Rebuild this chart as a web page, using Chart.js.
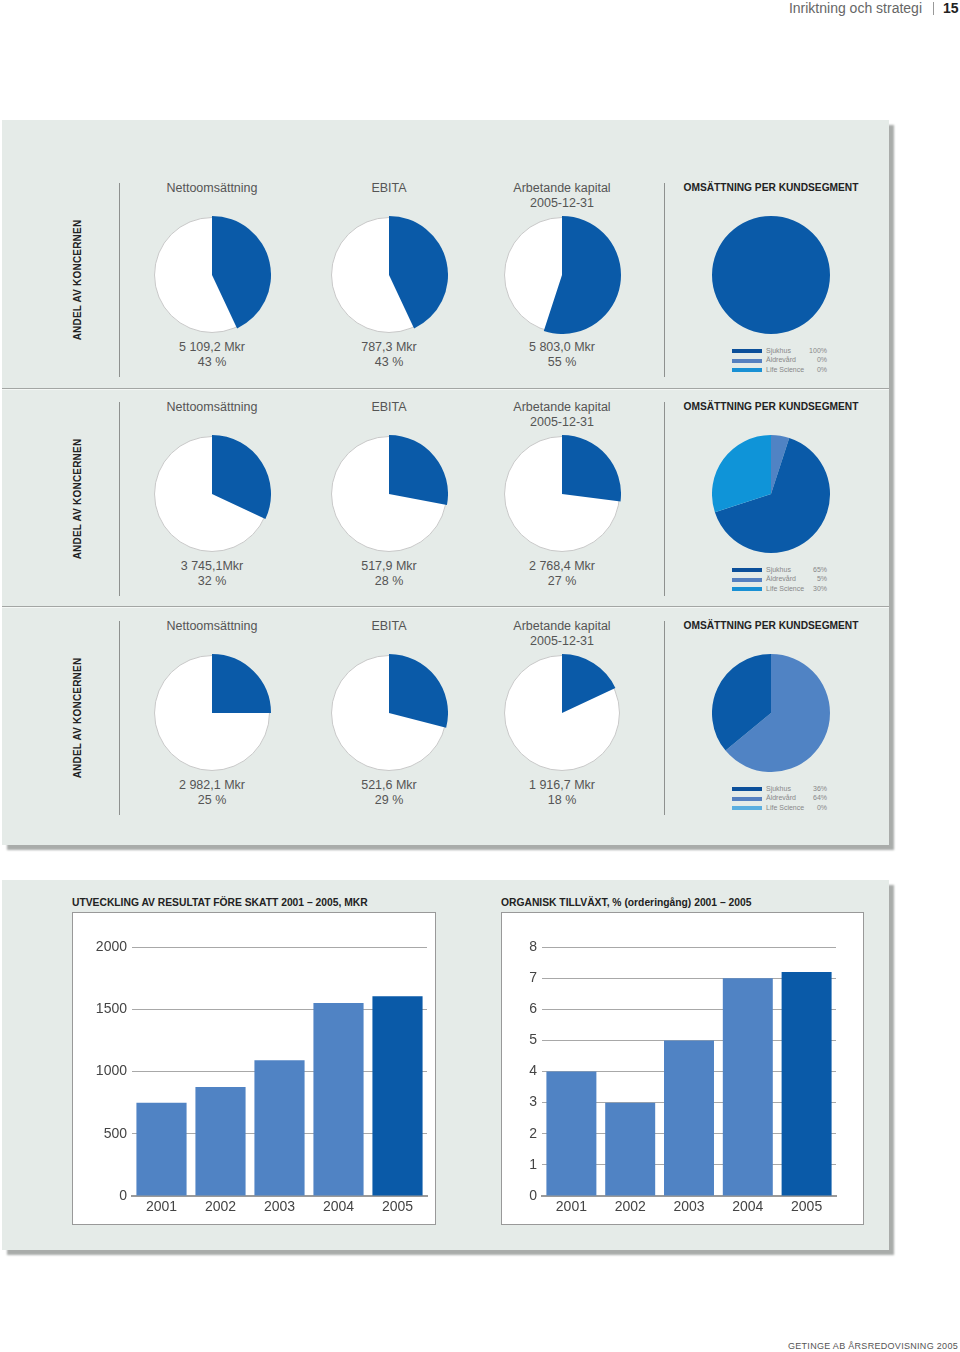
<!DOCTYPE html>
<html><head><meta charset="utf-8">
<script src="https://cdn.jsdelivr.net/npm/chart.js@4"></script>
<style>
html,body{margin:0;padding:0;background:#fff;}
body{width:960px;height:1352px;position:relative;overflow:hidden;font-family:"Liberation Sans",Arial,Helvetica,sans-serif;}
.abs{position:absolute;}
.panel{position:absolute;background:#e5ebe8;box-shadow:5px 5px 2px #a9acaa;}
.t{position:absolute;white-space:nowrap;transform:translate(-50%,-50%);color:#555;font-size:12.5px;}
.vl{position:absolute;white-space:nowrap;transform:translate(-50%,-50%) rotate(-90deg);font-weight:bold;font-size:10px;color:#222;letter-spacing:0.2px;}
.sep{position:absolute;width:1px;background:#8e918f;}
.hsep{position:absolute;left:2px;width:887px;height:1px;background:#a3a6a4;border-bottom:1px solid #f4f7f5;}
.segt{position:absolute;white-space:nowrap;transform:translate(-50%,-50%);font-weight:bold;font-size:10.2px;color:#222;}
.circ{position:absolute;box-sizing:border-box;border:1px solid #c9c9c9;border-radius:50%;background:#fff;}
.lg{position:absolute;font-size:7px;color:#888;white-space:nowrap;}
.sw{position:absolute;width:30px;height:4px;}
.box{position:absolute;background:#fff;border:1px solid #999;box-sizing:border-box;}
.bt{position:absolute;white-space:nowrap;font-weight:bold;font-size:10.3px;color:#222;transform:translateY(-50%);}
</style></head>
<body>
<div class="abs" style="right:38px;top:0;font-size:14px;color:#666;line-height:16px;">Inriktning och strategi</div>
<div class="abs" style="left:933px;top:2px;width:1px;height:13px;background:#999;"></div>
<div class="abs" style="left:943px;top:0;font-size:14px;font-weight:bold;color:#222;line-height:16px;">15</div>

<div class="panel" style="left:2px;top:120px;width:887px;height:725px;"></div>
<div class="panel" style="left:2px;top:880px;width:887px;height:370px;"></div>
<div class="hsep" style="top:388px;"></div>
<div class="hsep" style="top:606px;"></div>

<div id="root"></div>

<div class="box" style="left:72px;top:912px;width:364px;height:313px;"></div>
<div class="box" style="left:501px;top:912px;width:363px;height:313px;"></div>
<div class="bt" style="left:72px;top:902px;">UTVECKLING AV RESULTAT FÖRE SKATT 2001 – 2005, MKR</div>
<div class="bt" style="left:501px;top:902px;">ORGANISK TILLVÄXT, % (orderingång) 2001 – 2005</div>
<canvas id="bar1" class="abs" style="left:72px;top:913px;" width="364" height="311"></canvas>
<canvas id="bar2" class="abs" style="left:501px;top:913px;" width="362" height="311"></canvas>

<div class="abs" style="right:2px;top:1341px;font-size:9px;color:#555;letter-spacing:0.3px;">GETINGE AB ÅRSREDOVISNING 2005</div>

<script>
// ---- data ----
const measureTitles = ['Nettoomsättning', 'EBITA', 'Arbetande kapital'];
const measureSubtitles = ['', '', '2005-12-31'];
const sideLabel = 'ANDEL AV KONCERNEN';
const segTitle = 'OMSÄTTNING PER KUNDSEGMENT';
const amountsRow1 = ['5 109,2 Mkr', '787,3 Mkr', '5 803,0 Mkr'];
const sharesRow1 = [43, 43, 55];
const amountsRow2 = ['3 745,1Mkr', '517,9 Mkr', '2 768,4 Mkr'];
const sharesRow2 = [32, 28, 27];
const amountsRow3 = ['2 982,1 Mkr', '521,6 Mkr', '1 916,7 Mkr'];
const sharesRow3 = [25, 29, 18];
const segmentNames = ['Sjukhus', 'Äldrevård', 'Life Science'];
const segmentRow1 = [100, 0, 0];
const segmentRow2 = [65, 5, 30];
const segmentRow3 = [36, 64, 0];

const years = ['2001', '2002', '2003', '2004', '2005'];
const resultatForeSkatt = [750, 875, 1090, 1550, 1605];
const organiskTillvaxt = [4, 3, 5, 7, 7.2];
const resultatTicks = [0, 500, 1000, 1500, 2000];
const tillvaxtTicks = [0, 1, 2, 3, 4, 5, 6, 7, 8];

// ---- styling ----
const DARK = '#0a5aa8';
const LIGHT = '#5083c4';
const segColors = ['#0a5aa8', '#5083c4', '#0f94d8'];
const segSwatch = [['#0b4f9a', '#5580c0', '#1890d4'], ['#0b4f9a', '#5580c0', '#1890d4'], ['#0b4f9a', '#5580c0', '#5aaee0']];

Chart.defaults.font.family = '"Liberation Sans", Arial, Helvetica, sans-serif';

const rows = [
  {amounts: amountsRow1, shares: sharesRow1, seg: segmentRow1},
  {amounts: amountsRow2, shares: sharesRow2, seg: segmentRow2},
  {amounts: amountsRow3, shares: sharesRow3, seg: segmentRow3}
];
const colX = [212, 389, 562];
const segX = 771;
const root = document.getElementById('root');
function el(cls, style, html) {
  const d = document.createElement('div');
  d.className = cls; d.setAttribute('style', style);
  if (html !== undefined) d.textContent = html;
  root.appendChild(d); return d;
}
function pieCanvas(cx, cy, id) {
  const c = document.createElement('canvas');
  c.id = id; c.width = 118; c.height = 118;
  c.className = 'abs';
  c.style.left = (cx - 59) + 'px'; c.style.top = (cy - 59) + 'px';
  root.appendChild(c); return c;
}
const pieOpts = {
  responsive: false, animation: false, events: [],
  plugins: {legend: {display: false}, tooltip: {enabled: false}},
  layout: {padding: 0}
};

rows.forEach((r, i) => {
  const off = i * 219;
  const cy = 275 + off;
  el('vl', `left:77px;top:${280 + off}px;`, sideLabel);
  el('sep', `left:119px;top:${183 + off}px;height:194px;`);
  el('sep', `left:664px;top:${183 + off}px;height:194px;`);
  measureTitles.forEach((title, j) => {
    const x = colX[j];
    el('t', `left:${x}px;top:${188 + off}px;`, title);
    if (measureSubtitles[j]) el('t', `left:${x}px;top:${203 + off}px;`, measureSubtitles[j]);
    el('circ', `left:${x - 58}px;top:${cy - 58}px;width:116px;height:116px;`);
    const c = pieCanvas(x, cy, `pie${i}${j}`);
    new Chart(c, {
      type: 'pie',
      data: {labels: ['Andel', 'Övrigt'], datasets: [{data: [r.shares[j], 100 - r.shares[j]],
        backgroundColor: [DARK, 'rgba(0,0,0,0)'], borderWidth: 0}]},
      options: pieOpts
    });
    el('t', `left:${x}px;top:${347 + off}px;`, r.amounts[j]);
    el('t', `left:${x}px;top:${362 + off}px;`, r.shares[j] + ' %');
  });
  el('segt', `left:${segX}px;top:${187 + off}px;`, segTitle);
  const c = pieCanvas(segX, cy, `seg${i}`);
  const order = [1, 0, 2]; // Äldrevård, Sjukhus, Life Science clockwise from top
  new Chart(c, {
    type: 'pie',
    data: {labels: order.map(k => segmentNames[k]), datasets: [{data: order.map(k => r.seg[k]),
      backgroundColor: order.map(k => segColors[k]), borderWidth: 0}]},
    options: pieOpts
  });
  segmentNames.forEach((n, k) => {
    const y = 351 + off + k * 9.5;
    el('sw', `left:732px;top:${y - 2}px;background:${segSwatch[i][k]};`);
    el('lg', `left:766px;top:${y - 4.5}px;`, n);
    el('lg', `right:${960 - 827}px;top:${y - 4.5}px;`, r.seg[k] + '%');
  });
});

function barChart(id, values, ticks, yWidth, rightPad) {
  const step = ticks[1] - ticks[0];
  new Chart(document.getElementById(id), {
    type: 'bar',
    data: {labels: years, datasets: [{data: values,
      backgroundColor: values.map((v, i) => i === values.length - 1 ? DARK : LIGHT),
      borderWidth: 0, barPercentage: 0.85, categoryPercentage: 1}]},
    options: {
      responsive: false, animation: false, events: [],
      plugins: {legend: {display: false}, tooltip: {enabled: false}},
      layout: {padding: {top: 34, right: rightPad, left: 0, bottom: 0}},
      scales: {
        x: {
          grid: {display: false, drawTicks: false},
          border: {display: true, color: '#9a9a9a', width: 2},
          ticks: {color: '#444', font: {size: 14}, padding: 3},
          afterFit: s => { s.height = 28; }
        },
        y: {
          min: ticks[0], max: ticks[ticks.length - 1],
          afterBuildTicks: s => { s.ticks = ticks.map(v => ({value: v})); },
          grid: {color: '#a8a8a8', lineWidth: 1, drawTicks: false},
          border: {display: false},
          ticks: {color: '#444', font: {size: 14}, padding: 5, stepSize: step, callback: v => String(v)},
          afterFit: s => { s.width = yWidth; }
        }
      }
    }
  });
}
barChart('bar1', resultatForeSkatt, resultatTicks, 60, 9);
barChart('bar2', organiskTillvaxt, tillvaxtTicks, 41, 27);
</script>
</body></html>
